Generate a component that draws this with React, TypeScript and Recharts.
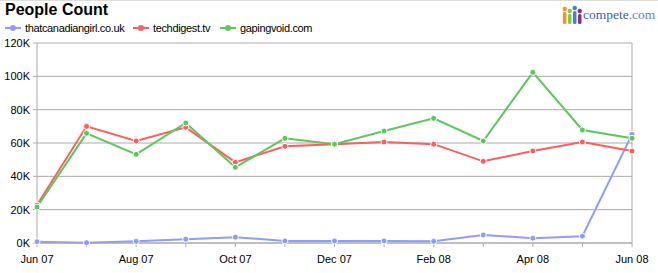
import { CartesianGrid, Line, LineChart, ReferenceLine, XAxis, YAxis } from "recharts"

const months = [
  "Jun 07", "Jul 07", "Aug 07", "Sep 07", "Oct 07", "Nov 07", "Dec 07",
  "Jan 08", "Feb 08", "Mar 08", "Apr 08", "May 08", "Jun 08",
]
const canadianGirl = [800, 200, 1000, 2300, 3500, 1200, 1200, 1200, 1000, 4800, 2900, 4100, 65200]
const techDigest = [22800, 70000, 61200, 69400, 48400, 58000, 59300, 60600, 59300, 49000, 55200, 60600, 55200]
const gapingVoid = [21600, 65800, 53200, 72000, 45400, 62800, 59300, 67200, 74800, 61200, 102400, 67800, 62800]
const yTicks = [0, 20000, 40000, 60000, 80000, 100000, 120000]

const SERIES = [
  { key: "canadian", name: "thatcanadiangirl.co.uk", color: "#8c9cff", values: canadianGirl, legendX: 5 },
  { key: "techdigest", name: "techdigest.tv", color: "#ff5c5c", values: techDigest, legendX: 133 },
  { key: "gapingvoid", name: "gapingvoid.com", color: "#5cc85c", values: gapingVoid, legendX: 220 },
]

const data = months.map((m, i) => ({
  month: m,
  canadian: canadianGirl[i],
  techdigest: techDigest[i],
  gapingvoid: gapingVoid[i],
}))

const FONT = "'Liberation Sans', Arial, Helvetica, sans-serif"
const GRID = "#aaaaaa"

function LegendMark({ color }: { color: string }) {
  return (
    <svg width={16} height={8} style={{ display: "block" }}>
      <line x1={0} y1={4} x2={5} y2={4} stroke={color} strokeWidth={2} />
      <line x1={11} y1={4} x2={16} y2={4} stroke={color} strokeWidth={2} />
      <circle cx={8} cy={4} r={3} fill={color} />
    </svg>
  )
}

function Logo() {
  const people = [
    { x: 3, c: "#f7941d", h: 12 },
    { x: 8, c: "#8dc63f", h: 10 },
    { x: 13, c: "#2e8bd3", h: 13 },
    { x: 18, c: "#92278f", h: 10 },
  ]
  return (
    <svg width={100} height={26} style={{ position: "absolute", left: 560, top: 1 }}>
      {people.map((p) => (
        <g key={p.x}>
          <circle cx={p.x + 1.75} cy={23 - p.h - 3} r={2.2} fill={p.c} />
          <rect x={p.x} y={23 - p.h} width={3.5} height={p.h} rx={1.5} fill={p.c} />
        </g>
      ))}
      <text x={23} y={18} fontFamily="'Liberation Serif', 'DejaVu Serif', serif" fontSize={13.5} fill="#3a5fb0">
        compete<tspan fill="#6a82b8">.com</tspan>
      </text>
    </svg>
  )
}

export default function App() {
  return (
    <div style={{ position: "absolute", left: 0, top: 0, width: 658, height: 273, background: "#fff", fontFamily: FONT }}>
      <div style={{ position: "absolute", left: 0, top: 0, width: 658, height: 1, background: "#dddddd" }} />
      <div style={{ position: "absolute", left: 5, top: 1, fontSize: 16, fontWeight: "bold", color: "#000" }}>
        People Count
      </div>
      {SERIES.map((s) => (
        <div
          key={s.key}
          style={{ position: "absolute", left: s.legendX, top: 22, display: "flex", alignItems: "center", fontSize: 11, color: "#000", letterSpacing: -0.35 }}
        >
          <LegendMark color={s.color} />
          <span style={{ marginLeft: 4 }}>{s.name}</span>
        </div>
      ))}
      <Logo />
      <LineChart width={658} height={273} data={data} margin={{ top: 43, right: 26, left: 0, bottom: 0 }}>
        <CartesianGrid vertical={false} stroke={GRID} strokeWidth={1} />
        <XAxis
          dataKey="month"
          interval={0}
          height={30}
          tickSize={4}
          tickMargin={8}
          axisLine={{ stroke: GRID }}
          tickLine={{ stroke: GRID }}
          tick={{ fill: "#000", fontSize: 11, fontFamily: FONT }}
          tickFormatter={(v: string, i: number) => (i % 2 === 0 ? v : "")}
        />
        <YAxis
          width={37}
          domain={[0, 120000]}
          ticks={yTicks}
          tickSize={4}
          tickMargin={3}
          axisLine={{ stroke: GRID }}
          tickLine={{ stroke: GRID }}
          tick={{ fill: "#000", fontSize: 11, fontFamily: FONT }}
          tickFormatter={(v: number) => `${v / 1000}K`}
        />
        <ReferenceLine x="Jun 08" stroke={GRID} />
        {SERIES.map((s) => (
          <Line
            key={s.key}
            dataKey={s.key}
            name={s.name}
            type="linear"
            stroke={s.color}
            strokeWidth={2}
            dot={{ r: 3, fill: s.color, stroke: "#fff", strokeWidth: 1 }}
            isAnimationActive={false}
          />
        ))}
      </LineChart>
    </div>
  )
}
